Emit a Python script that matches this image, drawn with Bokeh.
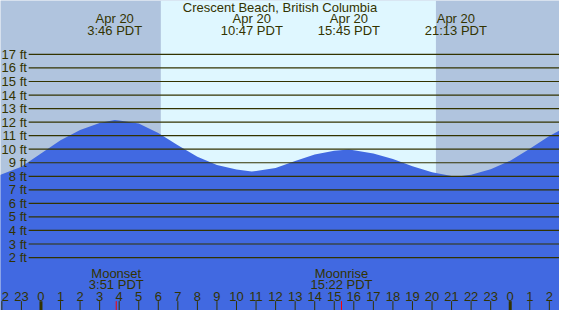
from bokeh.plotting import figure
from bokeh.models import Range1d
from bokeh.core.properties import value
from bokeh.embed import file_html
from bokeh.resources import INLINE

# ---- data ----
title = "Crescent Beach, British Columbia"
tide_hours = [-2.1, -2, -1, 0, 1, 2, 3, 3.77, 4, 5, 6, 7, 8, 9, 10, 10.78, 11, 12, 13,
              14, 15, 15.75, 16, 17, 18, 19, 20, 21, 21.22, 22, 23, 24, 25, 26, 26.6]
tide_ft = [8.1, 8.15, 8.7, 9.69, 10.66, 11.41, 11.94, 12.15, 12.12, 11.9, 11.2, 10.3, 9.45,
           8.83, 8.5, 8.35, 8.39, 8.61, 9.13, 9.61, 9.88, 9.97, 9.93, 9.69, 9.27, 8.75,
           8.3, 8.02, 7.97, 8.11, 8.52, 9.15, 10.03, 10.98, 11.45]
extreme_hours = [3.77, 10.78, 15.75, 21.22]
extreme_dates = ["Apr 20", "Apr 20", "Apr 20", "Apr 20"]
extreme_times = ["3:46 PDT", "10:47 PDT", "15:45 PDT", "21:13 PDT"]
sunrise_h = 6.13
sunset_h = 20.2
moon_hours = [3.85, 15.37]
moon_names = ["Moonset", "Moonrise"]
moon_times = ["3:51 PDT", "15:22 PDT"]
ft_levels = list(range(2, 18))
hour_ticks = list(range(-1, 27))
hour_labels = [str(h % 24) for h in hour_ticks]
edge_tick = -2
edge_label = "2"   # only the last digit of "22" shows at the left edge

# ---- layout ----
X0, X1 = -2.07, 26.52
Y0, Y1 = -1.91, 20.98
NIGHT = "#B0C4DE"
DAY = "#DFF7FF"
WATER = "#4169E1"
INK = "#333300"
FONT = value("Liberation Sans")
FS = "13px"

p = figure(width=559, height=310, x_range=Range1d(X0, X1), y_range=Range1d(Y0, Y1),
           output_backend="svg", toolbar_location=None, min_border=0)
p.axis.visible = False
p.grid.visible = False
p.outline_line_color = None
p.background_fill_color = NIGHT
p.border_fill_color = NIGHT

# daylight
p.quad(left=[sunrise_h], right=[sunset_h], bottom=[Y0], top=[Y1],
       fill_color=DAY, line_color=None)

# tide
p.varea(x=tide_hours, y1=[Y0] * len(tide_hours), y2=tide_ft, fill_color=WATER)

# grid lines
p.segment(x0=[-0.63] * len(ft_levels), x1=[X1 + 1] * len(ft_levels),
          y0=ft_levels, y1=ft_levels, line_color=INK, line_width=1.2)
p.text(x=[-0.72] * len(ft_levels), y=ft_levels, text=[f"{l} ft" for l in ft_levels],
       text_align="right", text_baseline="middle", text_font=FONT,
       text_font_size=FS, text_color=INK)

# title and extremes
p.text(x=[(X0 + X1) / 2], y=[20.45], text=[title], text_align="center",
       text_baseline="middle", text_font=FONT, text_font_size=FS, text_color=INK)
p.text(x=extreme_hours, y=[19.62] * 4, text=extreme_dates, text_align="center",
       text_baseline="middle", text_font=FONT, text_font_size=FS, text_color=INK)
p.text(x=extreme_hours, y=[18.78] * 4, text=extreme_times, text_align="center",
       text_baseline="middle", text_font=FONT, text_font_size=FS, text_color=INK)

# moon events
p.text(x=moon_hours, y=[0.83] * 2, text=moon_names, text_align="center",
       text_baseline="middle", text_font=FONT, text_font_size=FS, text_color=INK)
p.text(x=moon_hours, y=[-0.02] * 2, text=moon_times, text_align="center",
       text_baseline="middle", text_font=FONT, text_font_size=FS, text_color=INK)

# hour ticks
p.text(x=hour_ticks, y=[-0.86] * len(hour_ticks), text=hour_labels, text_align="center",
       text_baseline="middle", text_font=FONT, text_font_size=FS, text_color=INK)
p.text(x=[edge_tick], y=[-0.86], text=[edge_label], text_align="left",
       text_baseline="middle", text_font=FONT, text_font_size=FS, text_color=INK)
all_ticks = [edge_tick] + hour_ticks
minor = [h for h in all_ticks if h % 24 != 0]
major = [h for h in all_ticks if h % 24 == 0]
p.segment(x0=minor, x1=minor, y0=[-1.22] * len(minor), y1=[Y0] * len(minor),
          line_color=INK, line_width=1)
p.segment(x0=major, x1=major, y0=[-1.22] * len(major), y1=[Y0] * len(major),
          line_color=INK, line_width=3)
p.segment(x0=moon_hours, x1=moon_hours, y0=[-1.22] * 2, y1=[Y0] * 2,
          line_color="#FF0000", line_width=1)

open("out.html", "w").write(file_html(p, INLINE))
